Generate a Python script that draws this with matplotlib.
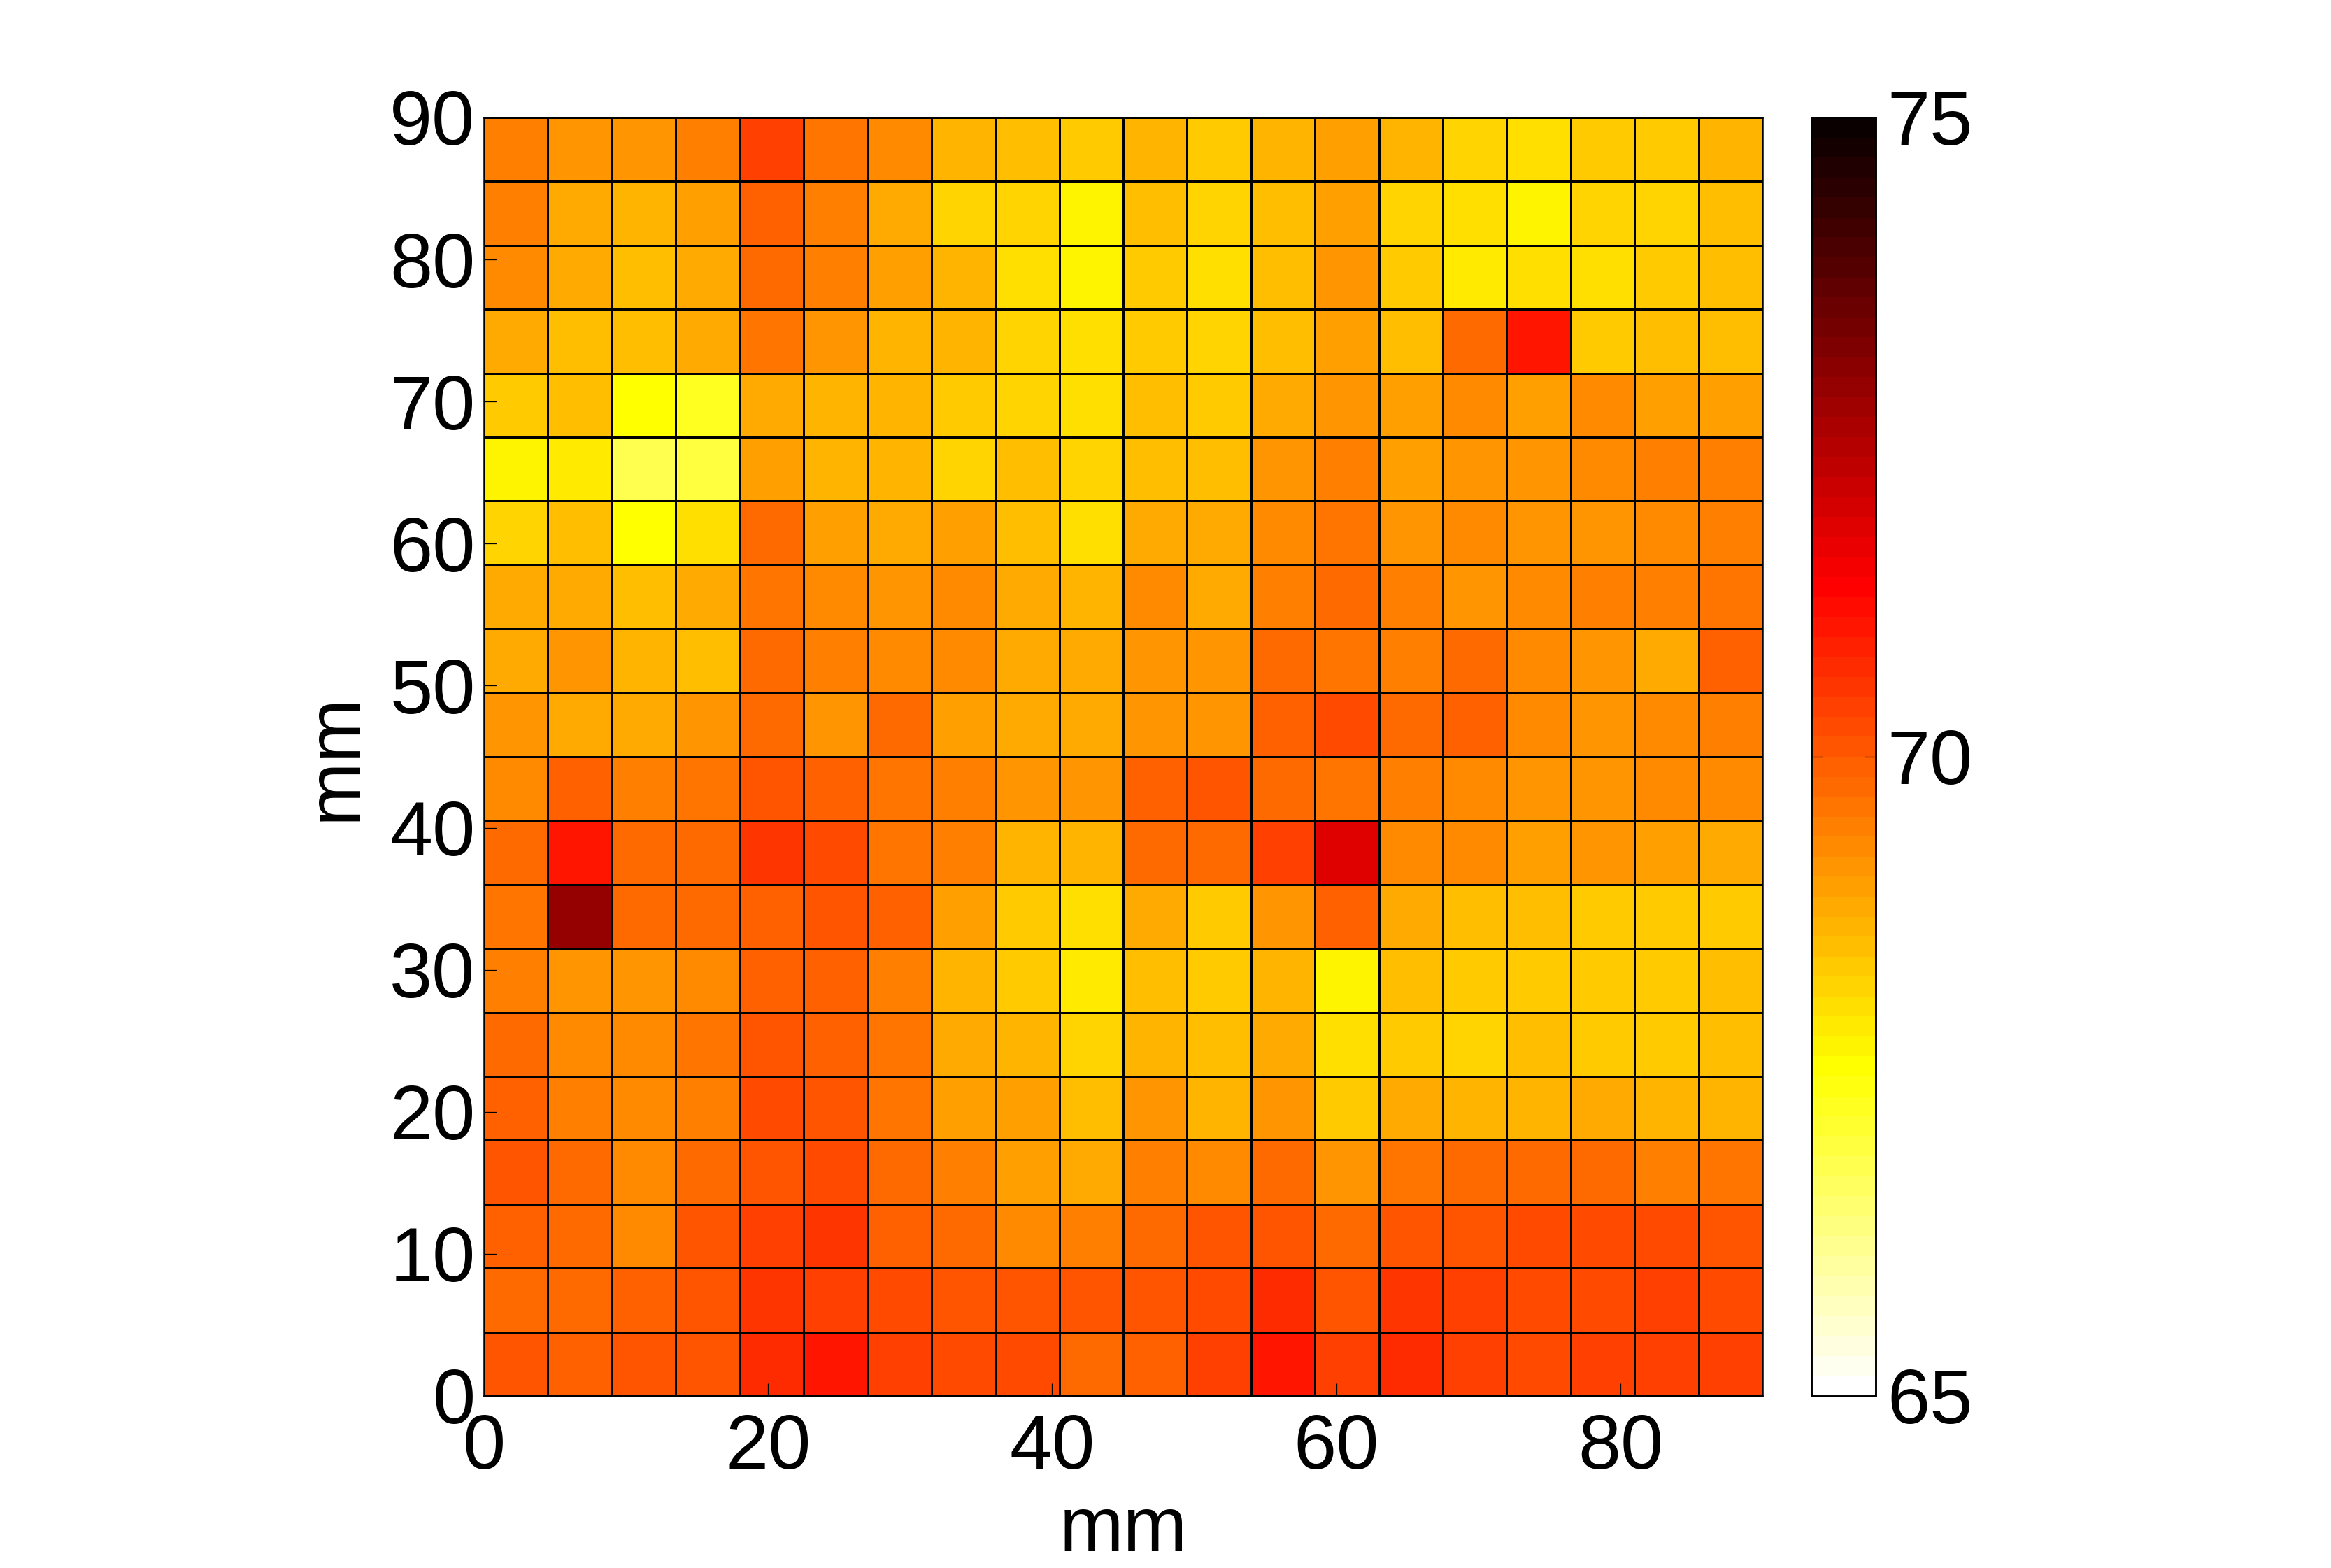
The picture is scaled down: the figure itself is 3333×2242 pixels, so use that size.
import numpy as np
import matplotlib
matplotlib.use("Agg")
import matplotlib.pyplot as plt
from matplotlib.colors import Normalize
from matplotlib.cm import ScalarMappable

plt.rcParams['font.family'] = ['Liberation Sans', 'DejaVu Sans']

# Rows from y = 85.5-90 mm (top) down to y = 0-4.5 mm (bottom); values in colourbar units
row_01 = [69.48,69.18,69.11,69.41,70.45,69.63,69.26,68.74,68.51,68.36,68.66,68.36,68.74,68.96,68.69,68.21,68.06,68.36,68.39,68.66]
row_02 = [69.41,68.88,68.74,69.03,69.93,69.48,68.88,68.21,68.18,67.69,68.51,68.21,68.51,68.96,68.18,68.03,67.69,68.18,68.18,68.51]
row_03 = [69.26,68.88,68.59,68.88,69.71,69.41,69.03,68.74,68.06,67.69,68.29,68.09,68.59,69.11,68.36,67.88,68.03,67.99,68.36,68.51]
row_04 = [68.88,68.51,68.59,68.81,69.63,69.18,68.66,68.74,68.21,68.09,68.36,68.18,68.59,69.03,68.59,69.78,70.98,68.39,68.51,68.51]
row_05 = [68.36,68.44,67.54,67.30,68.81,68.74,68.66,68.29,68.18,68.09,68.59,68.36,68.81,69.18,68.96,69.26,69.03,69.26,69.03,69.03]
row_06 = [67.76,67.94,66.85,67.00,69.03,68.66,68.69,68.21,68.51,68.18,68.51,68.51,69.18,69.48,68.96,69.18,69.18,69.26,69.41,69.48]
row_07 = [68.21,68.44,67.54,68.03,69.71,69.03,68.81,69.03,68.51,68.03,68.81,68.81,69.26,69.63,69.11,69.26,69.11,69.11,69.33,69.41]
row_08 = [68.81,68.88,68.59,68.88,69.63,69.33,69.18,69.26,68.88,68.74,69.33,68.88,69.41,69.78,69.48,69.18,69.26,69.48,69.48,69.56]
row_09 = [68.88,69.11,68.74,68.51,69.71,69.48,69.26,69.33,68.88,68.88,69.18,69.18,69.78,69.63,69.48,69.78,69.33,69.18,68.81,69.93]
row_10 = [69.18,68.81,68.81,69.11,69.78,69.18,69.71,69.03,68.88,68.88,69.11,69.18,69.93,70.23,69.78,69.93,69.33,69.11,69.33,69.48]
row_11 = [69.33,69.93,69.41,69.63,70.08,69.93,69.63,69.48,69.11,69.11,69.86,70.08,69.71,69.63,69.41,69.33,69.11,69.11,69.33,69.33]
row_12 = [69.78,71.05,69.71,69.78,70.60,70.23,69.63,69.48,68.74,68.74,69.78,69.78,70.45,71.78,69.26,69.26,69.03,69.11,69.03,68.88]
row_13 = [69.63,72.92,69.71,69.71,69.93,70.00,69.93,69.03,68.36,68.03,68.81,68.36,69.18,69.93,68.88,68.59,68.51,68.39,68.39,68.39]
row_14 = [69.48,69.18,69.11,69.33,69.93,69.86,69.48,68.69,68.39,67.88,68.59,68.36,68.69,67.69,68.59,68.39,68.39,68.39,68.39,68.51]
row_15 = [69.78,69.33,69.33,69.63,70.15,69.86,69.63,68.88,68.69,68.21,68.69,68.51,68.81,68.03,68.39,68.21,68.59,68.39,68.39,68.51]
row_16 = [69.93,69.48,69.33,69.48,70.23,70.08,69.63,69.03,69.03,68.59,69.11,68.74,69.11,68.39,68.88,68.69,68.69,68.88,68.69,68.69]
row_17 = [70.00,69.71,69.33,69.78,70.08,70.30,69.78,69.41,68.96,68.81,69.48,69.33,69.78,69.11,69.63,69.71,69.78,69.78,69.48,69.56]
row_18 = [69.86,69.71,69.33,70.08,70.45,70.60,69.93,69.78,69.33,69.48,69.78,70.00,70.08,69.71,70.08,70.08,70.30,70.23,70.30,70.08]
row_19 = [69.71,69.71,69.86,70.00,70.60,70.38,70.23,70.15,70.08,70.15,70.00,70.30,70.75,70.15,70.60,70.45,70.30,70.23,70.45,70.23]
row_20 = [70.08,69.93,70.08,70.08,70.75,70.98,70.45,70.30,70.23,69.78,69.93,70.45,70.98,70.45,70.75,70.45,70.30,70.38,70.38,70.45]

x_ticks_shown = [0, 20, 40, 60, 80]
y_ticks = [0, 10, 20, 30, 40, 50, 60, 70, 80, 90]
cbar_ticks = [65, 70, 75]
v_min, v_max = 65, 75

W, H = 3333, 2242
FS = 26.4
rows = [row_01,row_02,row_03,row_04,row_05,row_06,row_07,row_08,row_09,row_10,
        row_11,row_12,row_13,row_14,row_15,row_16,row_17,row_18,row_19,row_20]
Z = np.array(rows)[::-1]
edges = np.linspace(0, 90, Z.shape[1] + 1)

def box(l, t, r, b):
    return [l / W, 1 - b / H, (r - l) / W, (b - t) / H]

fig = plt.figure(figsize=(W / 300, H / 300), dpi=300, facecolor='white')
ax = fig.add_axes(box(692, 168, 2520, 1996))
cmap = plt.get_cmap('hot_r', 64)
norm = Normalize(v_min, v_max)
ax.pcolormesh(edges, edges, Z, cmap=cmap, norm=norm, edgecolors='black', linewidth=0.62)
ax.set_xlim(0, 90)
ax.set_ylim(0, 90)
ax.set_xticks(x_ticks_shown)
ax.set_yticks(y_ticks)
ax.tick_params(direction='in', length=4.3, width=0.3, labelsize=FS, pad=3, top=False, right=False)
ax.tick_params(axis='x', pad=6)
for s in ax.spines.values():
    s.set_linewidth(0.6)
ax.set_xlabel('mm', fontsize=FS, labelpad=3.6)
ax.set_ylabel('mm', fontsize=FS, labelpad=6)

cax = fig.add_axes(box(2590, 168, 2682, 1996))
cb = fig.colorbar(ScalarMappable(norm=norm, cmap=cmap), cax=cax, ticks=cbar_ticks)
cb.outline.set_linewidth(0.7)
cax.tick_params(direction='in', length=3.8, width=0.3, labelsize=FS, pad=4, left=True, right=True)

fig.savefig('out.png', dpi=300, facecolor='white')
